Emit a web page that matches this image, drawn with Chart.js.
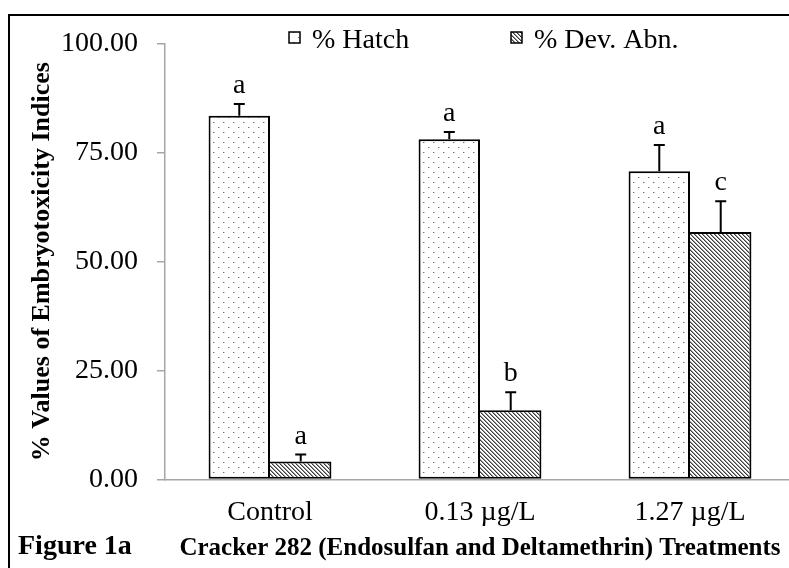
<!DOCTYPE html>
<html>
<head>
<meta charset="utf-8">
<script src="https://cdn.jsdelivr.net/npm/chart.js@4"></script>
<style>
  html, body { margin: 0; padding: 0; background: #fff; overflow: hidden; }
  #frame { position: absolute; left: 8px; top: 14px; width: 1000px; height: 1000px;
           border-left: 2px solid #000; border-top: 2px solid #000; }
  #wrap { position: absolute; left: 0; top: 0; }
</style>
</head>
<body>
<div id="frame"></div>
<div id="wrap"><canvas id="embryoChart" width="830" height="568"></canvas></div>
<script>
const treatments = ['Control', '0.13 µg/L', '1.27 µg/L'];
const hatchValues = [83.5, 78.1, 70.8];
const hatchErrors = [2.7, 1.7, 6.0];
const hatchLetters = ['a', 'a', 'a'];
const devValues = [4.1, 15.9, 56.8];
const devErrors = [1.6, 4.1, 7.1];
const devLetters = ['a', 'b', 'c'];

const serif = '"Liberation Serif", "Times New Roman", serif';

// dotted fill for % Hatch
function dotPattern() {
    const c = document.createElement('canvas');
    c.width = 10; c.height = 10;
    const g = c.getContext('2d');
    g.fillStyle = '#fff';
    g.fillRect(0, 0, 10, 10);
    g.fillStyle = '#6e6e6e';
    g.fillRect(3, 2, 1, 1);
    g.fillRect(8, 7, 1, 1);
    g.fillStyle = '#c8c8c8';
    g.fillRect(4, 2, 1, 1);
    g.fillRect(9, 7, 1, 1);
    return g.createPattern(c, 'repeat');
}

// diagonal hatch for % Dev. Abn.
function stripePattern() {
    const c = document.createElement('canvas');
    c.width = 4; c.height = 4;
    const g = c.getContext('2d');
    g.fillStyle = '#fff';
    g.fillRect(0, 0, 4, 4);
    for (let x = 0; x < 4; x++) {
        for (let y = 0; y < 4; y++) {
            const d = ((x - y) % 4 + 4) % 4;
            if (d === 0) { g.fillStyle = '#3a3a3a'; g.fillRect(x, y, 1, 1); }
            if (d === 1) { g.fillStyle = '#9a9a9a'; g.fillRect(x, y, 1, 1); }
        }
    }
    return g.createPattern(c, 'repeat');
}

const errorBars = {
    id: 'errorBars',
    afterDatasetsDraw(chart) {
        const ctx = chart.ctx;
        const y = chart.scales.y;
        chart.data.datasets.forEach((ds, di) => {
            const meta = chart.getDatasetMeta(di);
            meta.data.forEach((bar, i) => {
                const top = y.getPixelForValue(ds.data[i] + ds.errors[i]);
                ctx.save();
                ctx.strokeStyle = '#000';
                ctx.lineWidth = 2;
                ctx.beginPath();
                ctx.moveTo(bar.x, bar.y);
                ctx.lineTo(bar.x, top);
                ctx.moveTo(bar.x - 5.5, top);
                ctx.lineTo(bar.x + 5.5, top);
                ctx.stroke();
                ctx.fillStyle = '#000';
                ctx.font = '28px ' + serif;
                ctx.textAlign = 'center';
                ctx.textBaseline = 'alphabetic';
                ctx.fillText(ds.letters[i], bar.x, top - 11);
                ctx.restore();
            });
        });
    }
};

const extraText = {
    id: 'extraText',
    afterDraw(chart) {
        const ctx = chart.ctx;
        const area = chart.chartArea;
        ctx.save();
        // legend drawn inside the plot area
        const items = [{ x: area.left + 124, ds: 0 }, { x: area.left + 346, ds: 1 }];
        items.forEach(it => {
            const ds = chart.data.datasets[it.ds];
            ctx.fillStyle = ds.backgroundColor;
            ctx.fillRect(it.x, 32, 11, 11);
            ctx.strokeStyle = '#000';
            ctx.lineWidth = 1.5;
            ctx.strokeRect(it.x, 32, 11, 11);
            ctx.fillStyle = '#000';
            ctx.font = '28px ' + serif;
            ctx.textAlign = 'left';
            ctx.textBaseline = 'alphabetic';
            ctx.fillText(ds.label, it.x + 23, 48);
        });
        ctx.font = 'bold 28px ' + serif;
        ctx.fillText('Figure 1a', 18, 554);
        ctx.restore();
    }
};

const chart = new Chart(document.getElementById('embryoChart'), {
    type: 'bar',
    data: {
        labels: treatments,
        datasets: [{
            label: '% Hatch',
            data: hatchValues,
            errors: hatchErrors,
            letters: hatchLetters,
            backgroundColor: dotPattern(),
            borderColor: '#000',
            borderWidth: 2,
            borderSkipped: false
        }, {
            label: '% Dev. Abn.',
            data: devValues,
            errors: devErrors,
            letters: devLetters,
            backgroundColor: stripePattern(),
            borderColor: '#000',
            borderWidth: 2,
            borderSkipped: 'left'
        }]
    },
    options: {
        responsive: false,
        animation: false,
        categoryPercentage: 0.585,
        barPercentage: 1.0,
        layout: { padding: { top: 44, left: 0, right: 35, bottom: 7.4 } },
        plugins: {
            legend: { display: false },
            tooltip: { enabled: false }
        },
        scales: {
            x: {
                grid: { display: false, drawTicks: false },
                border: { color: '#a6a6a6', width: 1.5 },
                ticks: { color: '#000', padding: 20.5, font: { family: serif, size: 28, lineHeight: 0.9 } },
                title: {
                    display: true,
                    text: 'Cracker 282 (Endosulfan and Deltamethrin) Treatments',
                    color: '#000',
                    font: { family: serif, size: 25, weight: 'bold', lineHeight: 1.0 },
                    padding: { top: -10, bottom: 0 }
                }
            },
            y: {
                min: 0,
                max: 100,
                afterFit: s => { s.width = 165; },
                grid: { drawOnChartArea: false, color: '#a6a6a6', lineWidth: 1.5, tickLength: 8 },
                border: { color: '#a6a6a6', width: 1.5 },
                ticks: {
                    stepSize: 25,
                    color: '#000',
                    padding: 19,
                    font: { family: serif, size: 28 },
                    callback: v => v.toFixed(2)
                },
                title: {
                    display: true,
                    text: '% Values of Embryotoxicity Indices',
                    color: '#000',
                    font: { family: serif, size: 26, weight: 'bold' },
                    padding: { top: 27, bottom: 0 }
                }
            }
        }
    },
    plugins: [errorBars, extraText]
});
</script>
</body>
</html>
